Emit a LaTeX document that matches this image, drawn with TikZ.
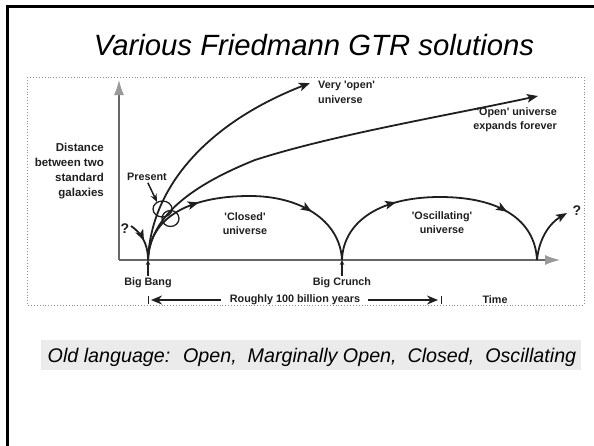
\documentclass[tikz,border=0pt]{standalone}
\usepackage{fontspec}
\setmainfont{Liberation Sans}
\usetikzlibrary{arrows.meta,decorations.markings}
\newcommand\myq{\textquotesingle}
\begin{document}
\begin{tikzpicture}[x=1pt,y=-1pt,
  lbl/.style={font=\fontsize{10.8}{14.5}\selectfont\bfseries, inner sep=0pt, text=black!88},
  curve/.style={line width=1.8pt, draw=black!88},
  tip/.style={-{Stealth[length=11pt,width=8.5pt,inset=2.5pt]}},
  midarrow/.style={postaction={decorate,decoration={markings,mark=at position #1 with {\arrow{Stealth[length=11pt,width=8.5pt,inset=2.5pt]}}}}},
  axis/.style={line width=1.3pt, draw=black!60, -{Latex[length=15pt,width=10pt,color=black!40]}}
]
\useasboundingbox (0,0) rectangle (594,445);
% slide frame
\draw[line width=3pt] (7.5,448) -- (7.5,6) -- (597,6);
% title
\node[font=\fontsize{29.3}{35}\selectfont\itshape, anchor=base, inner sep=0pt] (title) at (314,55) {Various Friedmann GTR solutions};
% dotted frame of figure
\draw[black!45, dotted, line width=0.9pt] (27,77) rectangle (584,305);
% axes
\coordinate (O) at (119,260);
\coordinate (ytop) at (119,80);
\coordinate (xend) at (560,260);
\draw[axis] (O) -- (ytop);
\draw[axis] (O) -- (xend);
% key points
\coordinate (BB) at (148,260);
\coordinate (BC) at (342,260);
\coordinate (E) at (537,260);
\coordinate (VO) at (310,83);
\coordinate (om) at (255,160);
\coordinate (OP) at (538,96);
\coordinate (cpk) at (250,196);
\coordinate (opk) at (440,197);
\coordinate (fq) at (567,213);
\coordinate (qs) at (131,226);
% very open
\draw[curve, tip] (BB) .. controls (151,185) and (210,122) .. (VO);
% open
\draw[curve, tip] (BB) .. controls (150,215) and (195,184) .. (om) .. controls (332,135) and (450,115) .. (OP);
% closed
\draw[curve, midarrow=0.32, midarrow=0.77] (BB) .. controls (149,220) and (185,196) .. (cpk) .. controls (300,196) and (340,220) .. (BC);
% oscillating
\draw[curve, midarrow=0.33, midarrow=0.77] (BC) .. controls (343,225) and (375,197) .. (opk) .. controls (500,197) and (535,220) .. (E);
% final
\draw[curve, tip] (E) .. controls (539,238) and (550,223) .. (fq);
% question curve
\draw[curve, midarrow=0.5] (qs) .. controls (140,232) and (148,242) .. (BB);
% present ellipses
\draw[line width=1.3pt, black!88] (162.5,209) ellipse [x radius=9.5pt, y radius=8pt];
\draw[line width=1.3pt, black!88] (170.5,218.5) ellipse [x radius=8.5pt, y radius=8pt];
% labels
\node[lbl] (pres) at (147,177) {Present};
\coordinate (prestip) at (157,202);
\draw[line width=1.5pt, black!88, -{Stealth[length=8pt,width=6.5pt]}, shorten <=2pt] (pres.south) -- (prestip);
\node[lbl, align=left, anchor=west] (volab) at (318,92.5) {Very \myq open\myq\\universe};
\node[lbl, align=right, anchor=east, font=\fontsize{10.8}{14}\selectfont\bfseries] (oplab) at (557,119.5) {\myq Open\myq\ universe\\expands forever};
\node[lbl, align=center] (cllab) at (245,223.5) {\myq Closed\myq\\universe};
\node[lbl, align=center] (oslab) at (442,222.5) {\myq Oscillating\myq\\universe};
\node[lbl, align=right, anchor=east, font=\fontsize{11.5}{15}\selectfont\bfseries] (dist) at (104,171) {Distance\\between two\\standard\\galaxies};
\node[font=\fontsize{14}{14}\selectfont\bfseries, inner sep=0pt, text=black!88] (q1) at (125,229) {?};
\node[font=\fontsize{14}{14}\selectfont\bfseries, inner sep=0pt, text=black!88] (q2) at (577,211) {?};
% big bang / crunch
\node[lbl] (bb) at (148,283) {Big Bang};
\node[lbl] (bc) at (342,283) {Big Crunch};
\draw[line width=1.3pt, black!88, -{Stealth[length=5pt,width=4.5pt]}, shorten <=2pt] (bb.north) -- (BB);
\draw[line width=1.3pt, black!88, -{Stealth[length=5pt,width=4.5pt]}, shorten <=2pt] (bc.north) -- (BC);
% range
\coordinate (lbar) at (148,300);
\coordinate (rbar) at (441,300);
\node[lbl] (rough) at (295,300) {Roughly 100 billion years};
\draw[line width=1pt, black!88] ([yshift=-4pt]lbar) -- ([yshift=4pt]lbar);
\draw[line width=1pt, black!88] ([yshift=-4pt]rbar) -- ([yshift=4pt]rbar);
\draw[line width=2.6pt, black!88, -{Stealth[length=11pt,width=9pt]}, shorten <=9pt] (rough.west) -- ([xshift=3pt]lbar);
\draw[line width=2.6pt, black!88, -{Stealth[length=11pt,width=9pt]}, shorten <=8pt] (rough.east) -- ([xshift=-3pt]rbar);
\node[lbl] (time) at (495,300) {Time};
% caption
\fill[black!8] (41,340) rectangle (581,370);
\node[font=\fontsize{19.7}{22}\selectfont\itshape, anchor=base, inner sep=0pt] (cap) at (312,362) {Old language:~ Open,~ Marginally Open,~ Closed,~ Oscillating};
\end{tikzpicture}
\end{document}
